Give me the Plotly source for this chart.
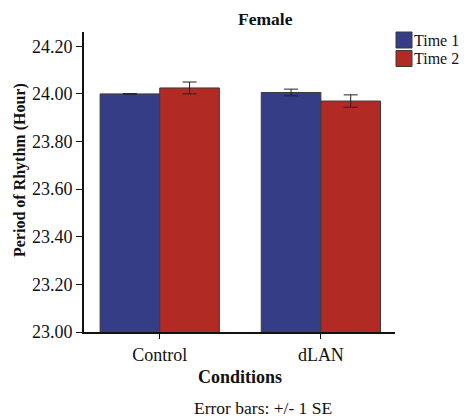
import plotly.graph_objects as go

conditions = ["Control", "dLAN"]
series_names = ["Time 1", "Time 2"]
time1_means = [24.000, 24.006]
time1_se = [0.001, 0.014]
time2_means = [24.025, 23.970]
time2_se = [0.025, 0.026]

SERIF = "Liberation Serif"
BLUE = "#353D86"
RED = "#B22A24"
EDGE = "#3a3a3a"

W, H = 469, 419
L, R, T, B = 84, 74, 32, 87
PW, PH = W - L - R, H - T - B


def px_x(px):
    return (px - L) / PW


def px_y(py):
    return (H - B - py) / PH


fig = go.Figure()
for name, means, se, color in [
    (series_names[0], time1_means, time1_se, BLUE),
    (series_names[1], time2_means, time2_se, RED),
]:
    fig.add_trace(go.Bar(
        x=conditions, y=means, name=name,
        marker=dict(color=color, line=dict(color=EDGE, width=1)),
        error_y=dict(type="data", array=se, color="#222", thickness=1, width=7),
    ))

fig.update_layout(
    width=W, height=H,
    margin=dict(l=L, r=R, t=T, b=B, autoexpand=False),
    plot_bgcolor="white", paper_bgcolor="white",
    barmode="group", bargap=0.26, bargroupgap=0,
    font=dict(family=SERIF, size=18, color="#111"),
    showlegend=False,
    xaxis=dict(
        range=[-0.47, 1.46], showline=True, linecolor="#111", linewidth=2,
        ticks="outside", ticklen=5, tickcolor="#111",
        tickfont=dict(family=SERIF, size=18),
    ),
    yaxis=dict(
        range=[23.0, 24.26], showline=True, linecolor="#111", linewidth=2,
        ticks="outside", ticklen=6, tickcolor="#111",
        tickvals=[23.0, 23.2, 23.4, 23.6, 23.8, 24.0, 24.2], tickformat=".2f",
        showgrid=False, zeroline=False,
        tickfont=dict(family=SERIF, size=18),
    ),
)

# Titles and footnote
fig.add_annotation(text="<b>Female</b>", xref="paper", yref="paper",
                   x=px_x(265.5), y=px_y(19), showarrow=False,
                   xanchor="center", yanchor="middle",
                   font=dict(family=SERIF, size=17.5))
fig.add_annotation(text="<b>Conditions</b>", xref="paper", yref="paper",
                   x=px_x(240), y=px_y(377), showarrow=False,
                   xanchor="center", yanchor="middle",
                   font=dict(family=SERIF, size=18))
fig.add_annotation(text="<b>Period of Rhythm (Hour)</b>", xref="paper", yref="paper",
                   x=px_x(20), y=px_y(170), showarrow=False, textangle=-90,
                   xanchor="center", yanchor="middle",
                   font=dict(family=SERIF, size=16))
fig.add_annotation(text="Error bars: +/- 1 SE", xref="paper", yref="paper",
                   x=px_x(263), y=px_y(408), showarrow=False,
                   xanchor="center", yanchor="middle",
                   font=dict(family=SERIF, size=17.5))

# Legend: square swatches with labels
for i, (name, color) in enumerate(zip(series_names, [BLUE, RED])):
    top = 32 + i * 18.5
    fig.add_shape(type="rect", xref="paper", yref="paper",
                  x0=px_x(396), x1=px_x(412), y0=px_y(top + 16), y1=px_y(top),
                  fillcolor=color, line=dict(color=EDGE, width=1))
    fig.add_annotation(text=name, xref="paper", yref="paper",
                       x=px_x(413), y=px_y(top + 8.5), showarrow=False,
                       xanchor="left", yanchor="middle",
                       height=15, borderpad=0,
                       font=dict(family=SERIF, size=16))

fig.write_html("out.html")
